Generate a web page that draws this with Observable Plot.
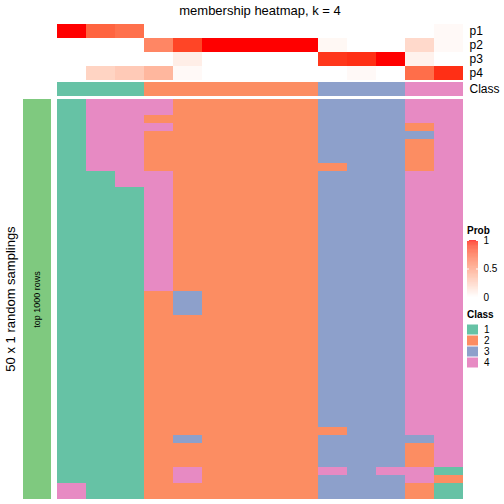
<!DOCTYPE html>
<html><head><meta charset="utf-8">
<script src="https://cdn.jsdelivr.net/npm/d3@7"></script>
<script src="https://cdn.jsdelivr.net/npm/@observablehq/plot@0.6"></script>
<style>
body{margin:0;background:#fff;}
#wrap{position:relative;width:504px;height:504px;overflow:hidden;font-family:"Liberation Sans",Arial,sans-serif;color:#000;}
#wrap > svg{position:absolute;left:0;top:0;}
.lbl{position:absolute;white-space:nowrap;line-height:1;}
</style></head><body><div id="wrap"></div>
<script>
// ---------- data ----------
const titleText = "membership heatmap, k = 4";
const yTitle = "50 x 1 random samplings";
const sideLabel = "top 1000 rows";
const samples = ["s1","s2","s3","s4","s5","s6","s7","s8","s9","s10","s11","s12","s13","s14"];
const probRows = ["p1","p2","p3","p4"];
const p1 = [1.00,0.77,0.72,0.00,0.00,0,0,0,0,0.00,0.00,0.00,0.00,0.03];
const p2 = [0.00,0.00,0.00,0.62,0.88,1,1,1,1,0.04,0.00,0.00,0.20,0.03];
const p3 = [0.00,0.00,0.00,0.00,0.09,0,0,0,0,0.92,0.94,1.00,0.07,0.00];
const p4 = [0.00,0.23,0.28,0.38,0.03,0,0,0,0,0.00,0.03,0.00,0.73,0.94];
const sampleClass = ["1","1","1","2","2","2","2","2","2","3","3","3","4","4"];
const classes = ["1","2","3","4"];
const classColors = ["#66C2A5","#FC8D62","#8DA0CB","#E78AC3"];
const sideColor = "#7FC97F";
const probTicks = [0, 0.5, 1];
// class of each of the 50 samplings (rows, top to bottom), one string per sample column
const membership = [
  "1111111111 1111111111 1111111111 1111111111 1111111144",
  "4444444441 1111111111 1111111111 1111111111 1111111111",
  "4444444444 4111111111 1111111111 1111111111 1111111111",
  "4424222224 4444444444 4444222222 2222222222 2222222222",
  "2222222222 2222222222 2222333222 2222222222 2232224422",
  "2222222222 2222222222 2222222222 2222222222 2222222222",
  "2222222222 2222222222 2222222222 2222222222 2222222222",
  "2222222222 2222222222 2222222222 2222222222 2222222222",
  "2222222222 2222222222 2222222222 2222222222 2222222222",
  "3333333323 3333333333 3333333333 3333333333 3233334333",
  "3333333333 3333333333 3333333333 3333333333 3333333333",
  "3333333333 3333333333 3333333333 3333333333 3333334333",
  "4442322224 4444444444 4444444444 4444444444 4432224422",
  "4444444444 4444444444 4444444444 4444444444 4444441211"
];
// ---------- build ----------
const FONT = "Liberation Sans, Arial, sans-serif";
const wrap = document.getElementById("wrap");
const L = 57, R = 463, W = 504;
const baseStyle = {background:"transparent", overflow:"visible", fontFamily: FONT};
const probScale = {type:"linear", domain:[0,1], range:["white","red"], interpolate:"lab"};
const classScale = {type:"ordinal", domain: classes, range: classColors};

const probData = [];
[p1,p2,p3,p4].forEach((arr, i) => arr.forEach((v, j) => probData.push({sample: samples[j], row: probRows[i], v})));
const classData = samples.map((s, j) => ({sample: s, row: "Class", cls: sampleClass[j]}));
const cellData = [];
membership.forEach((str, j) => {
  const s = str.replace(/ /g, "");
  for (let r = 0; r < s.length; r++) cellData.push({sample: samples[j], row: r, cls: s[r]});
});

function add(el){ wrap.appendChild(el); }

// probability annotation rows
add(Plot.plot({
  width: W, height: 80, marginTop: 24, marginBottom: 0, marginLeft: L, marginRight: W - R,
  style: {...baseStyle, fontSize: "12px"},
  x: {type:"band", domain: samples, padding: 0, axis: null},
  y: {type:"band", domain: probRows, padding: 0, axis: null},
  color: probScale,
  marks: [
    Plot.cell(probData, {x:"sample", y:"row", fill:"v", shapeRendering:"crispEdges"}),
    Plot.axisY({anchor:"right", label: null, tickSize:0, tickPadding:6, fontSize:12, fill:"#000"})
  ]
}));

// class annotation row
add(Plot.plot({
  width: W, height: 96, marginTop: 82, marginBottom: 0, marginLeft: L, marginRight: W - R,
  style: {...baseStyle, fontSize: "12px"},
  x: {type:"band", domain: samples, padding: 0, axis: null},
  y: {type:"band", domain: ["Class"], padding: 0, axis: null},
  color: classScale,
  marks: [
    Plot.cell(classData, {x:"sample", y:"row", fill:"cls", shapeRendering:"crispEdges"}),
    Plot.axisY({anchor:"right", label: null, tickSize:0, tickPadding:6, fontSize:12, fill:"#000"})
  ]
}));

// main membership heatmap
add(Plot.plot({
  width: W, height: W, marginTop: 99, marginBottom: 5, marginLeft: L, marginRight: W - R,
  style: baseStyle,
  x: {type:"band", domain: samples, padding: 0, axis: null},
  y: {type:"band", domain: d3.range(50), padding: 0, axis: null},
  color: classScale,
  marks: [
    Plot.cell(cellData, {x:"sample", y:"row", fill:"cls", shapeRendering:"crispEdges"})
  ]
}));

// left side annotation bar
add(Plot.plot({
  width: W, height: W, marginTop: 99, marginBottom: 5, marginLeft: 23, marginRight: W - 51,
  style: baseStyle,
  x: {type:"band", domain: [sideLabel], padding: 0, axis: null},
  y: {type:"band", domain: [sideLabel], padding: 0, axis: null},
  marks: [
    Plot.cell([sideLabel], {x: d => d, y: d => d, fill: sideColor, shapeRendering:"crispEdges"}),
    Plot.text([sideLabel], {x: d => d, y: d => d, rotate: -90, fontSize: 9, fill: "#000"})
  ]
}));

// Prob legend (gradient)
const gradSteps = d3.range(0, 1, 0.01);
add(Plot.plot({
  width: W, height: W, margin: 0,
  style: {...baseStyle, fontSize: "10px"},
  x: {type:"linear", domain:[0,1], range:[467,478], axis:null},
  y: {type:"linear", domain:[0,1], range:[297,240], axis:null},
  color: probScale,
  marks: [
    Plot.rect(gradSteps, {x1: () => 0, x2: () => 1, y1: d => d, y2: d => d + 0.0101, fill: d => d + 0.005}),
    Plot.ruleY(probTicks.filter(d => d > 0), {x1: () => 0, x2: () => 0.18, stroke: "white"}),
    Plot.ruleY(probTicks.filter(d => d > 0), {x1: () => 0.82, x2: () => 1, stroke: "white"}),
    Plot.text(probTicks, {x: () => 1, y: d => d, text: d => String(d), dx: 5, textAnchor: "start", fontSize: 10, fill:"#000"})
  ]
}));

// Class legend
add(Plot.plot({
  width: W, height: W, margin: 0,
  style: {...baseStyle, fontSize: "10px"},
  x: {type:"band", domain:["k"], range:[467,478], padding:0, axis:null},
  y: {type:"band", domain: classes, range:[324,368], padding:0, axis:null},
  color: classScale,
  marks: [
    Plot.cell(classes, {x: () => "k", y: d => d, fill: d => d, insetTop: 0.5, insetBottom: 0.5}),
    Plot.text(classes, {x: () => "k", y: d => d, text: d => d, dx: 11, textAnchor: "start", fontSize: 10, fill:"#000"})
  ]
}));

// titles
function label(text, css){ const d = document.createElement("div"); d.className = "lbl"; d.textContent = text; Object.assign(d.style, css); wrap.appendChild(d); }
label(titleText, {left: (L + R) / 2 + "px", top: "4px", transform: "translateX(-50%)", fontSize: "13px"});
label(yTitle, {left: "10px", top: "299px", transform: "translate(-50%,-50%) rotate(-90deg)", fontSize: "13px"});
label("Prob", {left: "467px", top: "226px", fontSize: "10px", fontWeight: "bold"});
label("Class", {left: "467px", top: "310px", fontSize: "10px", fontWeight: "bold"});
</script></body></html>
